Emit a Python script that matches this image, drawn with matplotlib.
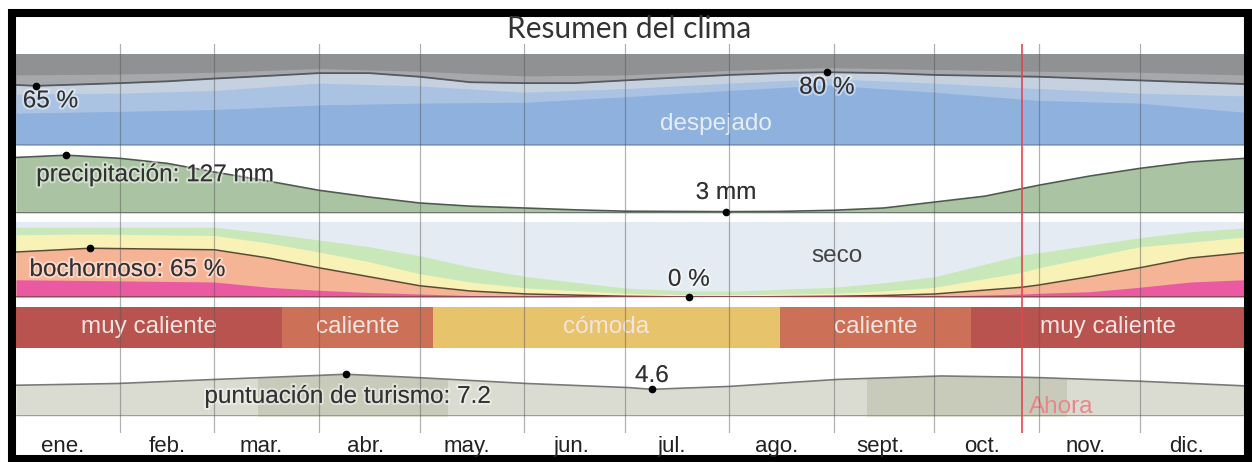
import matplotlib
matplotlib.use("Agg")
import matplotlib.pyplot as plt
import matplotlib.patheffects as pe
from matplotlib.patches import Rectangle

# --- data (days of year 0..365) ---
month_labels = ["ene.", "feb.", "mar.", "abr.", "may.", "jun.", "jul.",
                "ago.", "sept.", "oct.", "nov.", "dic."]
month_starts = [0, 31, 59, 90, 120, 151, 181, 212, 243, 273, 304, 334]
today = 299  # "Ahora"

# cloud cover, cumulative % of time (from clearest up)
cloud_days = [0, 31, 59, 90, 120, 151, 181, 212, 241, 273, 304, 334, 365]
cloud_clear = [35, 37, 39, 44, 46, 47, 53, 60, 66, 58, 49, 46, 36]
cloud_mostly_clear = [56, 57, 60, 68, 65, 58, 62, 68, 73, 68, 62, 57, 54]
cloud_mostly_cloudy = [77, 78, 80, 84, 81, 76, 77, 82, 85, 83, 81, 80, 77]
cloud_line_days = [0, 6, 31, 45, 59, 75, 90, 105, 120, 135, 151, 166, 181,
                   196, 212, 227, 241, 258, 273, 288, 304, 319, 334, 349, 365]
cloud_line = [66, 65, 68, 70, 73, 76, 79, 79, 75, 69, 68, 68, 71,
              74, 77, 79, 80, 79, 77, 76, 75, 73, 71, 69, 67]

# precipitation (mm)
precip_days = [0, 15, 31, 45, 59, 75, 90, 105, 120, 135, 151, 166, 181,
               196, 211, 227, 243, 258, 273, 288, 304, 319, 334, 349, 365]
precip_mm = [122, 127, 120, 109, 90, 70, 50, 35, 22, 15, 11, 7, 4,
             3.5, 3, 3.5, 6, 11, 24, 37, 61, 81, 98, 112, 120]

# humidity comfort, cumulative % of time
hum_days = [0, 22, 59, 75, 90, 105, 120, 135, 152, 181, 200, 214, 243, 258,
            273, 299, 304, 319, 334, 349, 365]
hum_oppressive = [23, 22, 20, 13, 9, 6, 4, 2, 1, 0, 0, 0, 0, 0,
                  1, 4, 5, 7, 13, 20, 23]
hum_muggy = [60, 65, 63, 52, 39, 27, 15, 8, 4, 1, 0, 0, 1, 2,
             4, 13, 16, 27, 39, 52, 59]
hum_humid = [83, 84, 82, 72, 60, 47, 31, 20, 12, 5, 3, 3, 5, 8,
             13, 33, 39, 53, 67, 73, 80]
hum_comfortable = [93, 93, 93, 85, 76, 67, 55, 40, 27, 12, 8, 8, 13, 19,
                   27, 56, 59, 69, 79, 87, 92]

# temperature bands
temp_labels = ["muy caliente", "caliente", "cómoda", "caliente", "muy caliente"]
temp_starts = [0, 79, 124, 227, 284]
temp_ends = [79, 124, 227, 284, 365]
temp_colors = {"muy caliente": "#b9534f", "caliente": "#cd7058", "cómoda": "#e7c36b"}

# tourism score (0..10)
tour_days = [0, 30, 59, 90, 98, 120, 152, 182, 189, 212, 244, 275, 298, 305, 334, 365]
tour_score = [5.3, 5.6, 6.3, 7.0, 7.2, 6.6, 5.6, 4.9, 4.6, 5.1, 6.3, 6.9, 6.7, 6.6, 6.0, 5.2]
tour_best = [(72, 128), (253, 312)]

# --- figure ---
W, H = 1252, 462
fig = plt.figure(figsize=(W / 100, H / 100), dpi=100)
plt.rcParams['font.family'] = ['Liberation Sans', 'DejaVu Sans']

halo = [pe.withStroke(linewidth=3, foreground=(1, 1, 1, 0.45))]
TXT = 17.5
INK = '#303030'


def px_axes(x0, y0, x1, y1):
    # axes placed by pixel box (top-left origin)
    ax = fig.add_axes([x0 / W, 1 - y1 / H, (x1 - x0) / W, (y1 - y0) / H])
    ax.set_xlim(0, 365)
    ax.set_axis_off()
    return ax


def dot(ax, xs, ys, pick):
    i = pick(range(len(ys)), key=lambda k: ys[k])
    ax.plot(xs[i], ys[i], 'o', color='black', ms=4.5, clip_on=False, zorder=6)
    return xs[i], ys[i]


# cloud panel
ax = px_axes(16, 54, 1244, 145)
ax.set_ylim(0, 100)
ax.fill_between([0, 365], 0, 100, color='#909193', lw=0)
ax.fill_between(cloud_days, 0, cloud_mostly_cloudy, color='#a6a8ab', lw=0)
ax.fill_between(cloud_line_days, 0, cloud_line, color='#c6d1e0', lw=0)
ax.fill_between(cloud_days, 0, cloud_mostly_clear, color='#abc3e3', lw=0)
ax.fill_between(cloud_days, 0, cloud_clear, color='#8eb1de', lw=0)
ax.plot(cloud_line_days, cloud_line, color='#555a60', lw=1.3)
ax.axhline(0, color='#6d84a8', lw=1.8)
x, y = dot(ax, cloud_line_days, cloud_line, min)
ax.text(x - 4, 48, f"{y} %", fontsize=TXT, color=INK, ha='left',
        va='center', path_effects=halo)
x, y = dot(ax, cloud_line_days, cloud_line, max)
ax.text(x, 63, f"{y} %", fontsize=TXT, color=INK, ha='center',
        va='center', path_effects=halo)
ax.text(208, 23, "despejado", fontsize=TXT, color='#e6edf7', ha='center', va='center')

# precipitation panel
ax = px_axes(16, 147, 1244, 213)
ax.set_ylim(0, 145)
ax.fill_between(precip_days, 0, precip_mm, color='#aac3a2', lw=0)
ax.plot(precip_days, precip_mm, color='#4f5a4f', lw=1.2)
ax.axhline(0, color='#6b756b', lw=1.4)
x, y = dot(ax, precip_days, precip_mm, max)
ax.text(6, 83, f"precipitación: {y:.0f} mm", fontsize=TXT, color=INK,
        ha='left', va='center', path_effects=halo)
x, y = dot(ax, precip_days, precip_mm, min)
ax.text(x, 44, f"{y:.0f} mm", fontsize=TXT, color=INK, ha='center',
        va='center', path_effects=halo)

# humidity panel
ax = px_axes(16, 222, 1244, 297)
ax.set_ylim(0, 100)
ax.fill_between([0, 365], 0, 100, color='#e4ebf2', lw=0)
ax.fill_between(hum_days, 0, hum_comfortable, color='#c9e8b9', lw=0)
ax.fill_between(hum_days, 0, hum_humid, color='#f8f2b6', lw=0)
ax.fill_between(hum_days, 0, hum_muggy, color='#f6b496', lw=0)
ax.fill_between(hum_days, 0, hum_oppressive, color='#ea5aa2', lw=0)
ax.plot(hum_days, hum_muggy, color='#5b4b35', lw=1.1)
ax.axhline(0, color='#8d4a55', lw=1.4)
x, y = dot(ax, hum_days, hum_muggy, max)
ax.text(4, 36, f"bochornoso: {y} %", fontsize=TXT, color=INK,
        ha='left', va='center', path_effects=halo)
x, y = dot(ax, hum_days, hum_muggy, min)
ax.text(x, 23, f"{y} %", fontsize=TXT, color=INK, ha='center',
        va='center', path_effects=halo)
ax.text(244, 55, "seco", fontsize=TXT, color='#444444', ha='center', va='center')

# temperature band
ax = px_axes(16, 307, 1244, 348)
ax.set_ylim(0, 1)
for lab, a, b in zip(temp_labels, temp_starts, temp_ends):
    ax.barh(0.5, b - a, left=a, height=1, color=temp_colors[lab], lw=0)
    ax.text((a + b) / 2, 0.52, lab, fontsize=TXT, color='#f4e4df',
            ha='center', va='center')

# tourism panel
ax = px_axes(16, 358, 1244, 416)
ax.set_ylim(0, 10)
ax.fill_between(tour_days, 0, tour_score, color='#dbdcd1', lw=0)
for a, b in tour_best:
    clip = ax.axvspan(a, b, alpha=0)
    band = ax.fill_between(tour_days, 0, tour_score, color='#c8cbba', lw=0)
    band.set_clip_path(clip)
ax.plot(tour_days, tour_score, color='#777a77', lw=1.2, clip_on=False)
ax.axhline(0, color='#8a8a8a', lw=1.8)
x, y = dot(ax, tour_days, tour_score, max)
ax.text(56, 3.3, f"puntuación de turismo: {y}", fontsize=TXT, color=INK,
        ha='left', va='center', path_effects=halo)
x, y = dot(ax, tour_days, tour_score, min)
ax.text(x, 6.9, f"{y}", fontsize=TXT, color=INK, ha='center',
        va='center', path_effects=halo)
ax.text(today + 2, 1.5, "Ahora", fontsize=TXT, color='#e8878a', ha='left', va='center')

# month grid and labels on top
grid = px_axes(16, 44, 1244, 433)
grid.set_zorder(10)
grid.set_ylim(0, 1)
for m in month_starts[1:]:
    grid.axvline(m, color='#555555', alpha=0.45, lw=0.9)
grid.axvline(today, color='#e0474c', lw=1.2)
for lab, m in zip(month_labels, month_starts):
    grid.text(m + 14, -0.034, lab, fontsize=16, color='#222222', ha='center',
              va='center', transform=grid.get_xaxis_transform())

fig.text(629 / W, 1 - 29 / H, "Resumen del clima", fontsize=21.5, color='#333333',
         ha='center', va='center', family=['Lato', 'DejaVu Sans'])

# black screenshot frame
fig.add_artist(Rectangle((12 / W, 1 - 459 / H), 1236 / W, 446 / H,
                         transform=fig.transFigure, fill=False,
                         edgecolor='black', lw=5.8))

fig.savefig("out.png", dpi=100, facecolor='white')
